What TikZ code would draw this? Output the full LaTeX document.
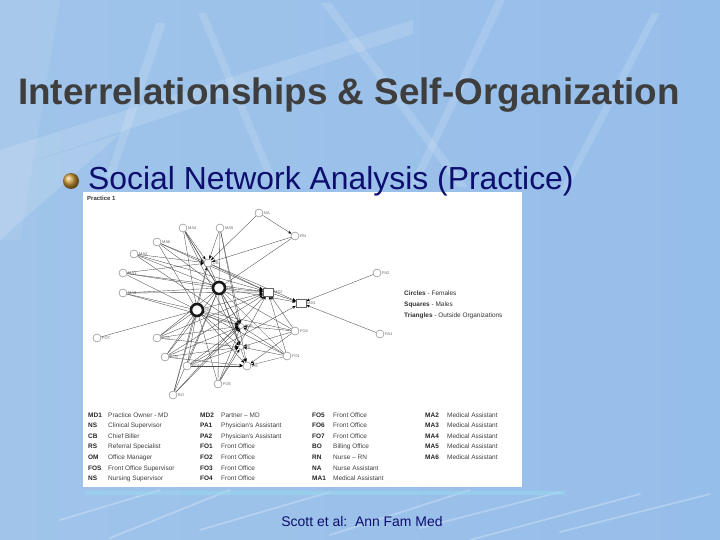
\documentclass[tikz,border=0pt]{standalone}
\usepackage{fontspec}
\setmainfont{Liberation Sans}
\usetikzlibrary{arrows.meta,shapes.geometric}
\pgfdeclarelayer{back}
\pgfdeclarelayer{edges}
\pgfsetlayers{back,edges,main}
\definecolor{navy}{RGB}{14,14,110}
\definecolor{titlegray}{RGB}{62,62,62}
\definecolor{bgl}{RGB}{160,196,234}
\definecolor{bgm}{RGB}{118,166,220}
\definecolor{bgr}{RGB}{150,190,234}
\definecolor{glow}{RGB}{150,220,240}
\tikzset{
 pc/.style={circle, draw=black!55, fill=white, line width=0.4pt, minimum size=8bp, inner sep=0pt},
 hub/.style={circle, draw=black!90, fill=white, line width=2.6pt, minimum size=12bp, inner sep=0pt},
 male/.style={rectangle, draw=black!60, fill=white, line width=0.4pt, minimum width=10bp, minimum height=8bp, inner sep=0pt},
 lab/.style={font=\fontsize{4}{4.5}\selectfont, text=black!60, inner sep=0.8bp},
 ed/.style={draw=black!70, line width=0.35pt},
 ar/.style={ed, -{Stealth[length=3.6bp,width=2.8bp,color=black]}},
 lgc/.style={font=\fontsize{6.5}{7.5}\selectfont\bfseries, text=black!85, anchor=base west, inner sep=0pt},
 lgd/.style={font=\fontsize{6.5}{7.5}\selectfont, text=black!75, anchor=base west, inner sep=0pt},
 keyt/.style={font=\fontsize{6.5}{7.5}\selectfont, text=black!80, anchor=base west, inner sep=0pt},
 stripe/.style={fill=white, opacity=0.14},
 streak/.style={draw=white, opacity=0.25, line width=1.8pt, line cap=round},
}
\begin{document}
\begin{tikzpicture}[x=1bp,y=-1bp]
\useasboundingbox (0,0) rectangle (720,540);
\begin{pgfonlayer}{back}
 % slide background
 \fill[left color=bgl, middle color=bgm, right color=bgr] (0,0) rectangle (720,540);
 \fill[white, opacity=0.08] (0,0) -- (60,0) -- (20,240) -- (0,240) -- cycle;
 \fill[stripe] (0,150) -- (413,20) -- (413,34) -- (0,172) -- cycle;
 \fill[stripe] (0,172) -- (120,134) -- (0,240) -- cycle;
 \fill[stripe] (156,23) -- (166,23) -- (114,177) -- (106,177) -- cycle;
 \fill[stripe] (198,13) -- (206,13) -- (279,187) -- (271,187) -- cycle;
 \fill[stripe] (321,3) -- (331,3) -- (468,187) -- (458,187) -- cycle;
 \fill[stripe] (496,0) -- (505,0) -- (417,187) -- (409,187) -- cycle;
 \fill[stripe] (652,13) -- (660,13) -- (568,190) -- (560,190) -- cycle;
 % bottom streaks
 \draw[streak] (60,520) -- (160,490);
 \draw[streak] (110,538) -- (230,490);
 \draw[streak] (200,530) -- (330,492);
 \draw[streak] (330,535) -- (470,490);
 \draw[streak] (420,528) -- (560,492);
 \draw[streak] (470,540) -- (640,494);
 \draw[streak] (560,532) -- (710,494);
 \fill[glow, opacity=0.45] (85,491) rectangle (565,495);
 % picture area
 \fill[white] (83,192) rectangle (522,487);
\end{pgfonlayer}

% title and bullet
\node[anchor=base west, inner sep=0pt, text=titlegray, font=\fontsize{37}{40}\selectfont\bfseries] (title) at (18,105) {Interrelationships \& Self-Organization};
\shade[ball color={rgb,255:red,205;green,155;blue,55}] (71,181) circle (8);
\node[anchor=base west, inner sep=0pt, text=navy, font=\fontsize{32}{36}\selectfont] (sub) at (88,190) {Social Network Analysis (Practice)};

\node[anchor=base west, inner sep=0pt, font=\fontsize{6}{7}\selectfont\bfseries, text=black!80] (prac) at (87,201) {Practice 1};

% network nodes
\node[pc, label={[lab]right:NA}] (NA) at (259,213) {};
\node[pc, label={[lab]right:RN}] (RN) at (295,236) {};
\node[pc, label={[lab]right:MA4}] (MA4) at (183,228) {};
\node[pc, label={[lab]right:MA5}] (MA5) at (220,228) {};
\node[pc, label={[lab]right:MA6}] (MA6) at (157,242) {};
\node[pc, label={[lab]right:MA2}] (MA2) at (134,254) {};
\node[pc, label={[lab]right:MA1}] (MA1) at (123,273) {};
\node[pc, label={[lab]right:MA3}] (MA3) at (123,293) {};
\node[pc, label={[lab]right:CB}] (CB) at (208,263) {};
\node[hub, label={[lab]right:OM}] (OM) at (219,288) {};
\node[hub, label={[lab]right:NS}] (NS) at (197,310) {};
\node[male, label={[lab]right:MD2}] (MD2) at (268,292) {};
\node[male, label={[lab]right:MD1}] (MD1) at (301,303) {};
\node[pc, label={[lab]right:PA2}] (PA2) at (377,273) {};
\node[pc, label={[lab]right:PA1}] (PA1) at (380,334) {};
\node[pc, label={[lab]right:FO4}] (FO4) at (295,331) {};
\node[pc, label={[lab]right:FO1}] (FO1) at (287,356) {};
\node[pc, label={[lab]right:FO7}] (FO7) at (97,338) {};
\node[pc, label={[lab]right:FO3}] (FO3) at (157,338) {};
\node[pc, label={[lab]right:FO2}] (FO2) at (165,357) {};
\node[pc, label={[lab]right:FO6}] (FO6) at (187,366) {};
\node[pc, label={[lab]right:FO5}] (FO5) at (218,384) {};
\node[pc, label={[lab]right:BO}] (BO) at (173,395) {};
\node[pc, label={[lab]right:RS}] (RS) at (247,366) {};
\node[pc, minimum size=5bp, label={[lab]right:FOS}] (FOS) at (241,326) {};
\node[pc, minimum size=5bp, label={[lab]right:NS}] (NSu) at (241,347) {};

% connectors
\begin{pgfonlayer}{edges}
 \foreach \s in {MA4,MA5,MA6,MA2,MA1,NA,BO} \draw[ar] (\s) -- (CB);
 \foreach \s in {MA4,MA5,MA6,MA2,MA1,MA3,CB,FO3,FO2,FO6,FO5,BO,FO4,FO1,RN} \draw[ed] (\s) -- (OM);
 \foreach \s in {MA4,MA6,MA1,MA3,CB,FO7,FO3,FO2,FO6,FO5,BO,FO4,FO1} \draw[ed] (\s) -- (NS);
 \foreach \s in {MA6,MA2,MA1,MA3,CB,OM,NS,FO3,FO2,FO5,BO,FO4,FO1} \draw[ar] (\s) -- (MD2);
 \foreach \s in {CB,OM,PA2,PA1,FO6,MD2} \draw[ar] (\s) -- (MD1);
 \foreach \s in {MA4,MA5,MA2,MA3,FO3,FO2,FO6,FO5,BO,FO4,FO1,NS,OM} \draw[ar] (\s) -- (FOS);
 \foreach \s in {MA4,FO3,FO2,FO6,FO5,FO4,FO1,NS,OM} \draw[ar] (\s) -- (NSu);
 \foreach \s in {MA5,FO2,FO6,FO4,FO1,NS,OM} \draw[ar] (\s) -- (RS);
 \draw[ar] (NA) -- (RN);
 \draw[ar] (RN) -- (CB);
\end{pgfonlayer}

% key (top right)
\node[keyt] (k1) at (404,295) {\textbf{Circles} - Females};
\node[keyt] (k2) at (404,306) {\textbf{Squares} - Males};
\node[keyt] (k3) at (404,317) {\textbf{Triangles} - Outside Organizations};

% legend table
\foreach \c/\d [count=\i] in {MD1/Practice Owner - MD, NS/Clinical Supervisor, CB/Chief Biller, RS/Referral Specialist, OM/Office Manager, FOS/Front Office Supervisor, NS/Nursing Supervisor}
 { \node[lgc] (la\i) at (88,{406.4+10.6*\i}) {\c}; \node[lgd] (lad\i) at (108,{406.4+10.6*\i}) {\d}; }
\foreach \c/\d [count=\i] in {MD2/Partner – MD, PA1/Physician’s Assistant, PA2/Physician’s Assistant, FO1/Front Office, FO2/Front Office, FO3/Front Office, FO4/Front Office}
 { \node[lgc] (lb\i) at (200,{406.4+10.6*\i}) {\c}; \node[lgd] (lbd\i) at (221,{406.4+10.6*\i}) {\d}; }
\foreach \c/\d [count=\i] in {FO5/Front Office, FO6/Front Office, FO7/Front Office, BO/Billing Office, RN/Nurse – RN, NA/Nurse Assistant, MA1/Medical Assistant}
 { \node[lgc] (lc\i) at (312,{406.4+10.6*\i}) {\c}; \node[lgd] (lcd\i) at (333,{406.4+10.6*\i}) {\d}; }
\foreach \c/\d [count=\i] in {MA2/Medical Assistant, MA3/Medical Assistant, MA4/Medical Assistant, MA5/Medical Assistant, MA6/Medical Assistant}
 { \node[lgc] (ld\i) at (425,{406.4+10.6*\i}) {\c}; \node[lgd] (ldd\i) at (447,{406.4+10.6*\i}) {\d}; }

% citation
\node[anchor=base, inner sep=0pt, text=navy, font=\fontsize{14}{16}\selectfont] (cite) at (362,526) {Scott et al:\ \ Ann Fam Med};
\end{tikzpicture}
\end{document}
